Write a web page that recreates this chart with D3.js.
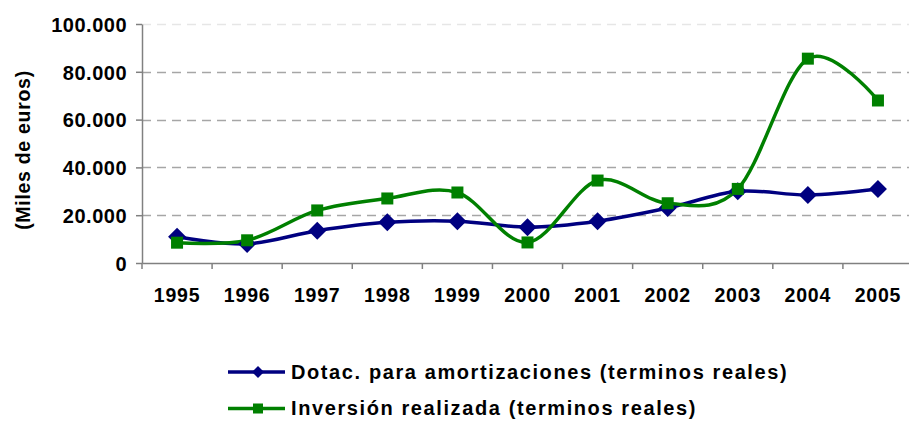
<!DOCTYPE html>
<html>
<head>
<meta charset="utf-8">
<script src="https://cdn.jsdelivr.net/npm/d3@7"></script>
<style>
  body { margin: 0; background: #fff; }
  svg { display: block; font-family: "Liberation Sans", Arial, sans-serif; font-weight: bold; }
</style>
</head>
<body>
<svg id="chart" width="909" height="421"></svg>
<script>
// chart data
const years = ["1995","1996","1997","1998","1999","2000","2001","2002","2003","2004","2005"];
const dotacion = [11000, 8000, 13500, 17000, 17500, 15000, 17500, 23000, 30000, 28500, 31000];
const inversion = [8500, 9500, 22000, 27000, 29500, 8600, 34500, 25000, 31000, 85500, 68000];
const yTicks = [0, 20000, 40000, 60000, 80000, 100000];
const seriesNames = [
  "Dotac. para amortizaciones (terminos reales)",
  "Inversión realizada (terminos reales)"
];

const svg = d3.select("#chart");
const plotLeft = 142, plotRight = 913, plotTop = 24, plotBottom = 263;

const x = d3.scaleBand().domain(years).range([plotLeft, plotRight]).paddingInner(0).paddingOuter(0);
const y = d3.scaleLinear().domain([0, 100000]).range([plotBottom, plotTop]);
const cx = d => x(d) + x.bandwidth() / 2;
const fmt = v => v === 0 ? "0" : d3.format(",")(v).replace(/,/g, ".");

// gridlines (top one is barely visible in the original)
svg.append("g")
  .selectAll("line")
  .data(yTicks.slice(1))
  .join("line")
  .attr("x1", plotLeft).attr("x2", 909)
  .attr("y1", d => Math.round(y(d)) + 0.5).attr("y2", d => Math.round(y(d)) + 0.5)
  .attr("stroke", d => d === 100000 ? "#e6e6e6" : "#a6a6a6")
  .attr("stroke-width", 1.3)
  .attr("stroke-dasharray", "9,6");

// y axis
const yAxis = svg.append("g")
  .attr("transform", `translate(${plotLeft},0)`)
  .call(d3.axisLeft(y).tickValues(yTicks).tickFormat(fmt).tickSize(6).tickSizeOuter(0));
yAxis.select(".domain").attr("stroke", "#808080").attr("stroke-width", 1.5);
yAxis.selectAll(".tick line").attr("stroke", "#808080").attr("stroke-width", 1.5);
yAxis.selectAll(".tick text")
  .attr("x", -15)
  .attr("dy", "0.36em")
  .style("font-size", "20px")
  .style("letter-spacing", "0.5px")
  .style("font-family", "'Liberation Sans', Arial, sans-serif")
  .style("font-weight", "bold")
  .attr("fill", "#000");

// x axis
const xAxis = svg.append("g")
  .attr("transform", `translate(0,${plotBottom})`)
  .call(d3.axisBottom(x).tickSize(0).tickSizeOuter(0));
xAxis.select(".domain").attr("stroke", "#808080").attr("stroke-width", 1.5);
xAxis.selectAll(".tick text")
  .attr("y", 39)
  .attr("dy", 0)
  .style("font-size", "19.5px")
  .style("letter-spacing", "0.8px")
  .style("font-family", "'Liberation Sans', Arial, sans-serif")
  .style("font-weight", "bold")
  .attr("fill", "#000");
// tick marks at category boundaries
svg.append("g")
  .selectAll("line")
  .data(years)
  .join("line")
  .attr("x1", d => x(d)).attr("x2", d => x(d))
  .attr("y1", plotBottom).attr("y2", plotBottom + 6)
  .attr("stroke", "#808080").attr("stroke-width", 1.5);

// y title
svg.append("text")
  .attr("transform", "translate(30,150) rotate(-90)")
  .attr("text-anchor", "middle")
  .style("font-size", "19.5px")
  .style("letter-spacing", "0.7px")
  .text("(Miles de euros)");

// lines
const line = d3.line()
  .x((d, i) => cx(years[i]))
  .y(d => y(d))
  .curve(d3.curveCatmullRom.alpha(0));

svg.append("path").datum(dotacion)
  .attr("d", line).attr("fill", "none")
  .attr("stroke", "#000080").attr("stroke-width", 3.5);
svg.append("path").datum(inversion)
  .attr("d", line).attr("fill", "none")
  .attr("stroke", "#008000").attr("stroke-width", 3.5);

// markers
const diamond = s => `M0,${-s}L${s},0L0,${s}L${-s},0Z`;
svg.append("g").selectAll("path")
  .data(dotacion)
  .join("path")
  .attr("transform", (d, i) => `translate(${cx(years[i])},${y(d)})`)
  .attr("d", diamond(9))
  .attr("fill", "#000080");
svg.append("g").selectAll("rect")
  .data(inversion)
  .join("rect")
  .attr("x", (d, i) => cx(years[i]) - 6)
  .attr("y", d => y(d) - 6)
  .attr("width", 12).attr("height", 12)
  .attr("fill", "#008000");

// legend
const legend = svg.append("g");
const colors = ["#000080", "#008000"];
seriesNames.forEach((name, i) => {
  const g = legend.append("g").attr("transform", `translate(228,${372 + i * 36.5})`);
  g.append("line").attr("x1", 0).attr("x2", 57).attr("y1", 0).attr("y2", 0)
    .attr("stroke", colors[i]).attr("stroke-width", 3.5);
  if (i === 0) {
    g.append("path").attr("transform", "translate(30,0)").attr("d", diamond(6)).attr("fill", colors[i]);
  } else {
    g.append("rect").attr("x", 25).attr("y", -5).attr("width", 10).attr("height", 10).attr("fill", colors[i]);
  }
  g.append("text")
    .attr("x", 63).attr("y", 6.5)
    .style("font-size", "20px")
    .style("letter-spacing", "1.6px")
    .text(name);
});
</script>
</body>
</html>
